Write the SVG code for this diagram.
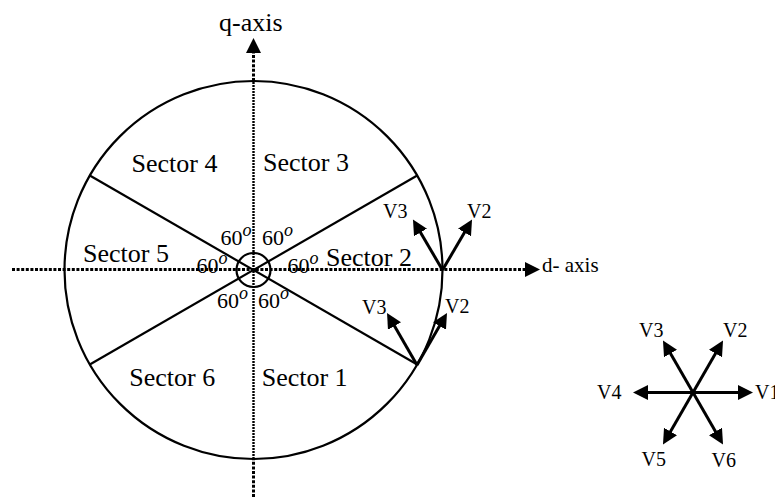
<svg xmlns="http://www.w3.org/2000/svg" width="775" height="502" viewBox="0 0 775 502" font-family="'Liberation Serif', 'Times New Roman', serif">
<style>
text{fill:#000}
.sec{font-size:26px}
.v{font-size:20px}
.deg{font-size:22px}
.sup{font-size:18px;font-style:italic}
.ln{stroke:#000;stroke-width:2.2;fill:none}
.arr{stroke:#000;stroke-width:3;fill:none;marker-end:url(#ah)}
.dot{stroke:#000;stroke-width:3;fill:none;stroke-dasharray:3 1.6}
.fine{stroke:#000;stroke-width:2.4;fill:none;stroke-dasharray:2 1}
</style>
<defs>
<marker id="ah" markerUnits="userSpaceOnUse" markerWidth="16" markerHeight="16" refX="2" refY="7.5" orient="auto">
<path d="M0,0 L15,7.5 L0,15 z" fill="#000"/>
</marker>
</defs>
<rect width="775" height="502" fill="#fff"/>
<g id="wheel">
<circle class="ln" cx="253.5" cy="270" r="189"/>
<line class="ln" x1="89.8" y1="175.5" x2="417.2" y2="364.5"/>
<line class="ln" x1="89.8" y1="364.5" x2="417.2" y2="175.5"/>
<circle class="ln" cx="253.5" cy="270" r="17"/>
</g>
<g id="connectors">
<line class="dot" x1="253.5" y1="497" x2="253.5" y2="459"/>
<line class="fine" x1="253.5" y1="459" x2="253.5" y2="81"/>
<line class="dot" x1="253.5" y1="81" x2="253.5" y2="51" style="marker-end:url(#ah)"/>
<line class="dot" x1="12" y1="269.5" x2="527" y2="269.5" style="marker-end:url(#ah)"/>
<line class="arr" x1="442.5" y1="270" x2="419.5" y2="230.7"/>
<line class="arr" x1="442.5" y1="270" x2="465.5" y2="230.7"/>
<line class="arr" x1="417" y1="365" x2="393.5" y2="324.3"/>
<line class="arr" x1="417" y1="365" x2="440.5" y2="324.3"/>
<line class="arr" x1="693" y1="392.5" x2="740" y2="392.5"/>
<line class="arr" x1="693" y1="392.5" x2="646" y2="392.5"/>
<line class="arr" x1="693" y1="392.5" x2="716.5" y2="351.8"/>
<line class="arr" x1="693" y1="392.5" x2="669.5" y2="351.8"/>
<line class="arr" x1="693" y1="392.5" x2="669.5" y2="433.2"/>
<line class="arr" x1="693" y1="392.5" x2="716.5" y2="433.2"/>
</g>
<g id="axis-labels">
<text id="q-axis" x="219" y="31" font-size="26">q-axis</text>
<text id="d-axis" x="542" y="271.5" font-size="21">d- axis</text>
</g>
<g id="sectors">
<text id="sector4" class="sec" x="131.5" y="172">Sector 4</text>
<text id="sector3" class="sec" x="263" y="171">Sector 3</text>
<text id="sector5" class="sec" x="83" y="262">Sector 5</text>
<text id="sector2" class="sec" x="326" y="266">Sector 2</text>
<text id="sector6" class="sec" x="129.3" y="386">Sector 6</text>
<text id="sector1" class="sec" x="261.7" y="386">Sector 1</text>
</g>
<g id="angles">
<text class="deg" x="220.5" y="245">60<tspan class="sup" dy="-9">o</tspan></text>
<text class="deg" x="262" y="245">60<tspan class="sup" dy="-9">o</tspan></text>
<text class="deg" x="196.5" y="273">60<tspan class="sup" dy="-9">o</tspan></text>
<text class="deg" x="287.5" y="273">60<tspan class="sup" dy="-9">o</tspan></text>
<text class="deg" x="217" y="308">60<tspan class="sup" dy="-9">o</tspan></text>
<text class="deg" x="258" y="308">60<tspan class="sup" dy="-9">o</tspan></text>
</g>
<g id="vector-labels">
<text class="v" x="383" y="218">V3</text>
<text class="v" x="467" y="218">V2</text>
<text class="v" x="362" y="314">V3</text>
<text class="v" x="445" y="313">V2</text>
<text class="v" x="639" y="337">V3</text>
<text class="v" x="723" y="337">V2</text>
<text class="v" x="597" y="399">V4</text>
<text class="v" x="755" y="399">V1</text>
<text class="v" x="641.5" y="466">V5</text>
<text class="v" x="711.5" y="466.5">V6</text>
</g>
</svg>
